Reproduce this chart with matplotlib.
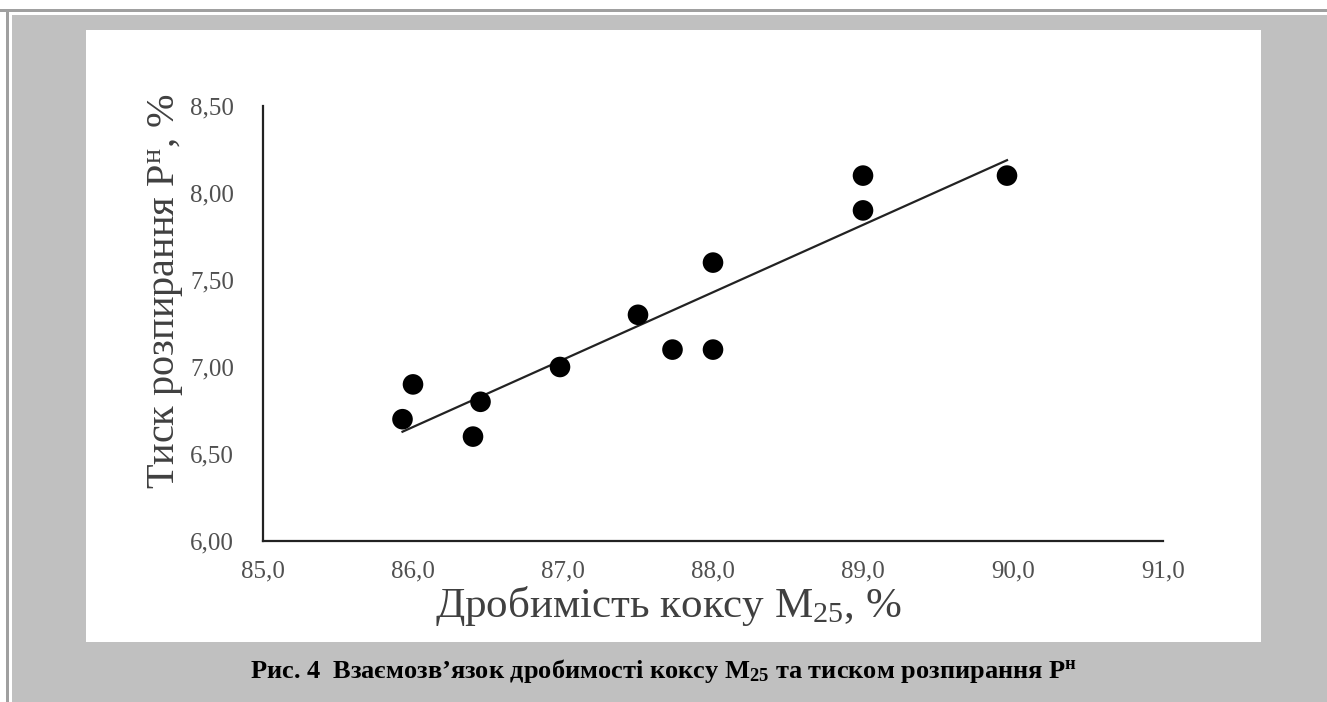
import numpy as np
import matplotlib
matplotlib.use("Agg")
import matplotlib.pyplot as plt
from matplotlib.patches import Rectangle

plt.rcParams['font.family'] = ['Liberation Serif', 'DejaVu Serif']
plt.rcParams['mathtext.fontset'] = 'custom'
plt.rcParams['mathtext.rm'] = 'Liberation Serif'
plt.rcParams['mathtext.it'] = 'Liberation Serif:italic'
plt.rcParams['mathtext.bf'] = 'Liberation Serif:bold'

# Data
crushability = [85.93, 86.0, 86.4, 86.45, 86.98, 87.5, 87.73, 88.0, 88.0, 89.0, 89.0, 89.96]
pressure = [6.70, 6.90, 6.60, 6.80, 7.00, 7.30, 7.10, 7.10, 7.60, 7.90, 8.10, 8.10]
x_ticks = [85.0, 86.0, 87.0, 88.0, 89.0, 90.0, 91.0]
y_ticks = [6.00, 6.50, 7.00, 7.50, 8.00, 8.50]
x_tick_labels = ["85,0", "86,0", "87,0", "88,0", "89,0", "90,0", "91,0"]
y_tick_labels = ["6,00", "6,50", "7,00", "7,50", "8,00", "8,50"]

W, H = 1327, 702
fig = plt.figure(figsize=(W / 100, H / 100), dpi=100, facecolor='white')

def frect(x0, y0, x1, y1, color):
    fig.patches.append(Rectangle((x0 / W, 1 - y1 / H), (x1 - x0) / W, (y1 - y0) / H,
                                 transform=fig.transFigure, facecolor=color,
                                 edgecolor='none', zorder=-5))

frect(0, 9, W, 12, '#a0a0a0')
frect(6, 9, 9, H, '#a0a0a0')
frect(12, 15, W, H, '#c0c0c0')
frect(86, 30, 1261, 642, 'white')

ax_l, ax_r, ax_t, ax_b = 263, 1163, 106, 541
ax = fig.add_axes([ax_l / W, 1 - ax_b / H, (ax_r - ax_l) / W, (ax_b - ax_t) / H])
ax.set_zorder(2)
ax.set_facecolor('none')
ax.set_xlim(85, 91)
ax.set_ylim(6, 8.5)
ax.set_xticks(x_ticks)
ax.set_xticklabels(x_tick_labels)
ax.set_yticks(y_ticks)
ax.set_yticklabels(y_tick_labels)
ax.tick_params(length=0, labelsize=18, labelcolor='#505050')
ax.tick_params(axis='x', pad=14)
ax.tick_params(axis='y', pad=21)
for s in ['top', 'right']:
    ax.spines[s].set_visible(False)
for s in ['left', 'bottom']:
    ax.spines[s].set_linewidth(1.6)
    ax.spines[s].set_color('#222222')

ax.scatter(crushability, pressure, s=220, color='black', zorder=3, edgecolors='none')
coef = np.polyfit(crushability, pressure, 1)
xs = np.array([min(crushability), max(crushability)])
ax.plot(xs, np.polyval(coef, xs), color='#222222', lw=1.6, zorder=2)

fig.text(668 / W, 1 - 606 / H, 'Дробимість коксу M$_{25}$, %', ha='center', va='center',
         fontsize=31, color='#404040', zorder=3)
fig.text(166 / W, 1 - 291 / H, 'Тиск розпирання P$^{\\mathrm{н}}$, %', ha='center', va='center',
         rotation=90, fontsize=29, color='#404040', zorder=3)

fig.text(664 / W, 1 - 671 / H,
         'Рис. 4  Взаємозв’язок дробимості коксу $\\mathbf{M}_{\\mathbf{25}}$ та тиском розпирання $\\mathbf{P}^{\\mathbf{н}}$',
         ha='center', va='center', fontsize=19, fontweight='bold', color='black', zorder=3)

fig.savefig('out.png', dpi=100, facecolor='white')
